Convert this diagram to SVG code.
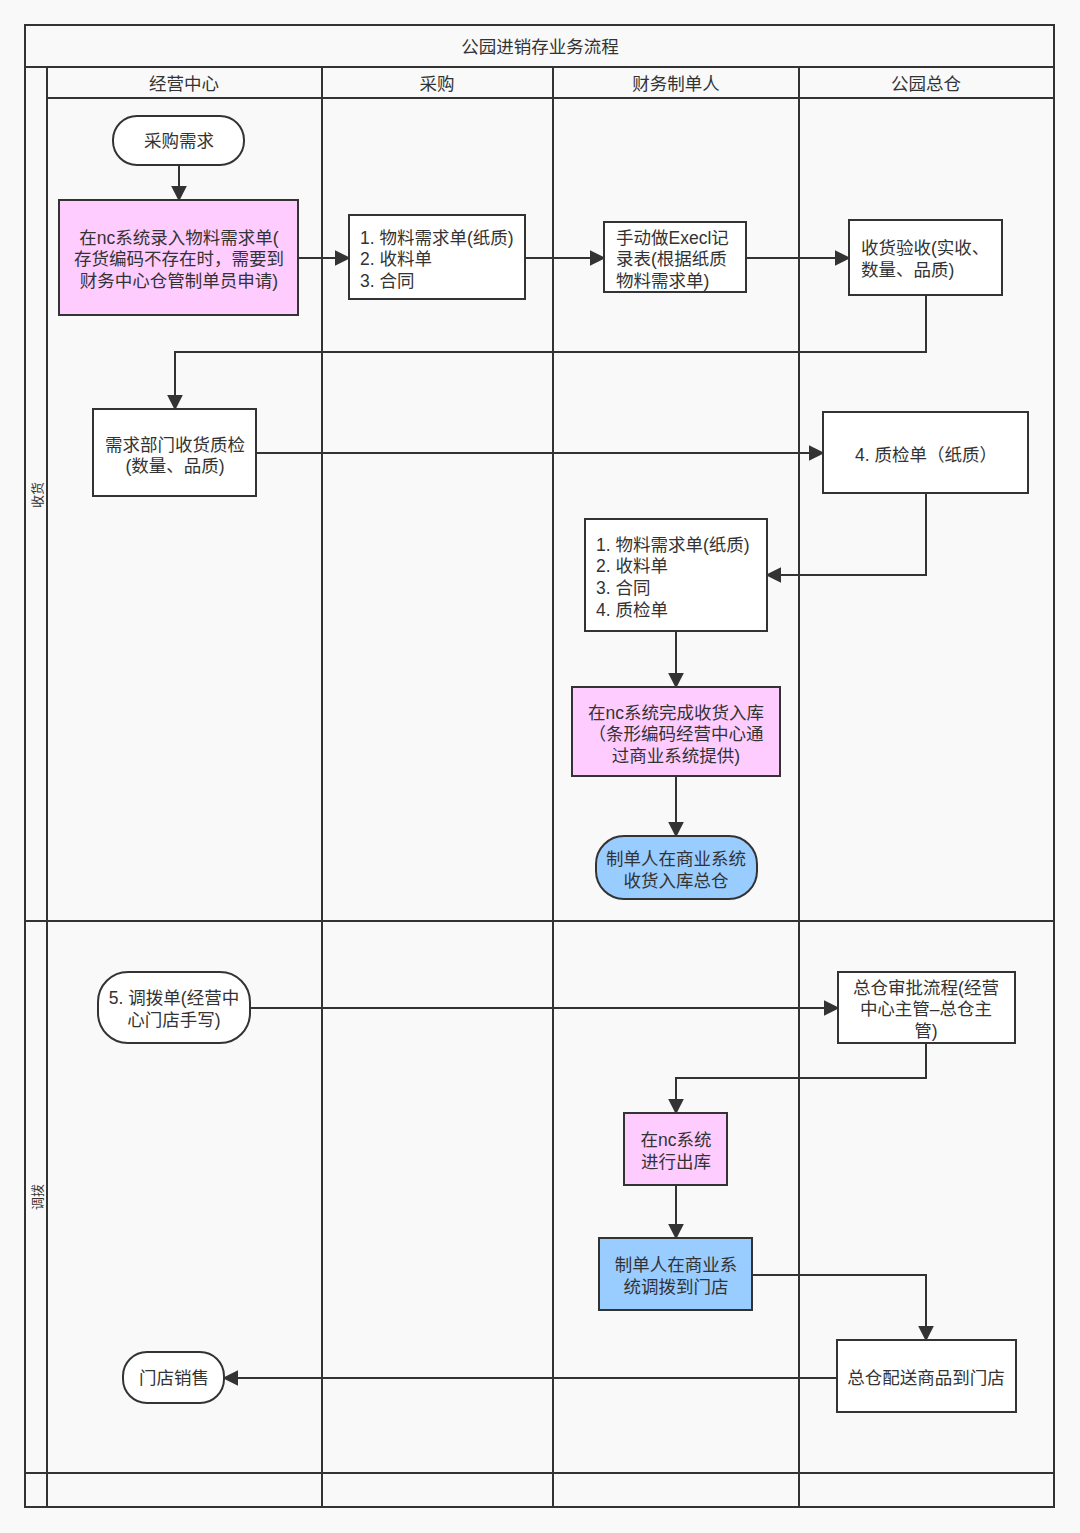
<svg xmlns="http://www.w3.org/2000/svg" width="1080" height="1533" viewBox="0 0 1080 1533">
<defs>
<marker id="arr" viewBox="0 0 10 10" refX="9" refY="5" markerWidth="16" markerHeight="16" markerUnits="userSpaceOnUse" orient="auto">
<path d="M0,0 L10,5 L0,10 Z" fill="#333"/>
</marker>
<style>
.frame{fill:none;stroke:#333;stroke-width:2}
.ln{stroke:#333;stroke-width:2}
.node{fill:#fff;stroke:#333;stroke-width:2}
.pink{fill:#ffccff;stroke:#333;stroke-width:2}
.blue{fill:#99ccff;stroke:#333;stroke-width:2}
.t{font-family:"Liberation Sans","Noto Sans CJK SC",sans-serif;font-size:17.5px;fill:#333}
.c{text-anchor:middle}
.s{font-size:13px}
.conn{fill:none;stroke:#333;stroke-width:2;marker-end:url(#arr)}
</style>
</defs>
<rect x="0" y="0" width="1080" height="1533" fill="#f9f9f9"/>
<g id="pool">
<rect class="frame" x="25" y="25" width="1029" height="1482"/>
<line class="ln" x1="25" y1="67" x2="1054" y2="67"/>
<line class="ln" x1="47" y1="98" x2="1054" y2="98"/>
<line class="ln" x1="47" y1="67" x2="47" y2="1507"/>
<line class="ln" x1="322" y1="67" x2="322" y2="1507"/>
<line class="ln" x1="553" y1="67" x2="553" y2="1507"/>
<line class="ln" x1="799" y1="67" x2="799" y2="1507"/>
<line class="ln" x1="25" y1="921" x2="1054" y2="921"/>
<line class="ln" x1="25" y1="1473" x2="1054" y2="1473"/>
<text class="t c" x="540" y="53">公园进销存业务流程</text>
<text class="t c" x="184" y="90">经营中心</text>
<text class="t c" x="437" y="90">采购</text>
<text class="t c" x="676" y="90">财务制单人</text>
<text class="t c" x="926" y="90">公园总仓</text>
<text class="t c s" transform="translate(42,495) rotate(-90)">收货</text>
<text class="t c s" transform="translate(42,1197) rotate(-90)">调拨</text>
</g>
<g id="connectors">
<path class="conn" d="M179,165 L179,200"/>
<path class="conn" d="M298,258 L349,258"/>
<path class="conn" d="M525,258 L604,258"/>
<path class="conn" d="M746,258 L849,258"/>
<path class="conn" d="M926,295 L926,352 L175,352 L175,409"/>
<path class="conn" d="M256,453 L823,453"/>
<path class="conn" d="M926,493 L926,575 L767,575"/>
<path class="conn" d="M676,631 L676,687"/>
<path class="conn" d="M676,776 L676,836"/>
<path class="conn" d="M250,1008 L838,1008"/>
<path class="conn" d="M926,1043 L926,1078 L676,1078 L676,1113"/>
<path class="conn" d="M676,1185 L676,1238"/>
<path class="conn" d="M752,1275 L926,1275 L926,1340"/>
<path class="conn" d="M837,1378 L224,1378"/>
</g>
<g id="n1"><rect class="node" x="113" y="116" width="131" height="49" rx="24"/><text class="t c" x="179" y="147">采购需求</text></g>
<g id="n2"><rect class="pink" x="59" y="200" width="239" height="115"/><text class="t c" x="179" y="244">在nc系统录入物料需求单(</text><text class="t c" x="179" y="265">存货编码不存在时，需要到</text><text class="t c" x="179" y="287">财务中心仓管制单员申请)</text></g>
<g id="n3"><rect class="node" x="349" y="215" width="176" height="84"/><text class="t" x="360" y="244">1. 物料需求单(纸质)</text><text class="t" x="360" y="265">2. 收料单</text><text class="t" x="360" y="287">3. 合同</text></g>
<g id="n4"><rect class="node" x="604" y="222" width="142" height="70"/><text class="t" x="616" y="244">手动做Execl记</text><text class="t" x="616" y="265">录表(根据纸质</text><text class="t" x="616" y="287">物料需求单)</text></g>
<g id="n5"><rect class="node" x="849" y="220" width="153" height="75"/><text class="t" x="861" y="254">收货验收(实收、</text><text class="t" x="861" y="276">数量、品质)</text></g>
<g id="n6"><rect class="node" x="93" y="409" width="163" height="87"/><text class="t c" x="175" y="451">需求部门收货质检</text><text class="t c" x="175" y="472">(数量、品质)</text></g>
<g id="n7"><rect class="node" x="823" y="412" width="205" height="81"/><text class="t c" x="926" y="461">4. 质检单（纸质）</text></g>
<g id="n8"><rect class="node" x="585" y="519" width="182" height="112"/><text class="t" x="596" y="551">1. 物料需求单(纸质)</text><text class="t" x="596" y="572">2. 收料单</text><text class="t" x="596" y="594">3. 合同</text><text class="t" x="596" y="616">4. 质检单</text></g>
<g id="n9"><rect class="pink" x="572" y="687" width="208" height="89"/><text class="t c" x="676" y="719">在nc系统完成收货入库</text><text class="t c" x="676" y="740">（条形编码经营中心通</text><text class="t c" x="676" y="762">过商业系统提供)</text></g>
<g id="n10"><rect class="blue" x="596" y="836" width="161" height="63" rx="28"/><text class="t c" x="676" y="865">制单人在商业系统</text><text class="t c" x="676" y="887">收货入库总仓</text></g>
<g id="n11"><rect class="node" x="98" y="972" width="152" height="71" rx="30"/><text class="t c" x="174" y="1004">5. 调拨单(经营中</text><text class="t c" x="174" y="1026">心门店手写)</text></g>
<g id="n12"><rect class="node" x="838" y="972" width="177" height="71"/><text class="t c" x="926" y="994">总仓审批流程(经营</text><text class="t c" x="926" y="1015">中心主管–总仓主</text><text class="t c" x="926" y="1037">管)</text></g>
<g id="n13"><rect class="pink" x="624" y="1113" width="103" height="72"/><text class="t c" x="676" y="1146">在nc系统</text><text class="t c" x="676" y="1168">进行出库</text></g>
<g id="n14"><rect class="blue" x="599" y="1238" width="153" height="72"/><text class="t c" x="676" y="1271">制单人在商业系</text><text class="t c" x="676" y="1293">统调拨到门店</text></g>
<g id="n15"><rect class="node" x="837" y="1340" width="179" height="72"/><text class="t c" x="926" y="1384">总仓配送商品到门店</text></g>
<g id="n16"><rect class="node" x="123" y="1352" width="101" height="51" rx="24"/><text class="t c" x="174" y="1384">门店销售</text></g>
</svg>
